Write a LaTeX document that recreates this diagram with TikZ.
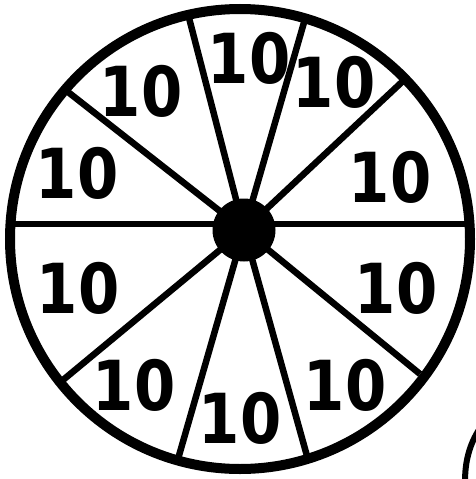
\documentclass[tikz,border=0pt]{standalone}
\usepackage{fontspec}
\newfontfamily\numfont{DejaVu Sans}
\begin{document}
\begin{tikzpicture}[x=1pt,y=-1pt,
  rim/.style={line width=10pt},
  spoke/.style={line width=6.5pt},
  lbl/.style={font=\numfont\bfseries\fontsize{69}{69}\selectfont, inner sep=0pt, xscale=0.86}]
\useasboundingbox (0,0) rectangle (476,479);
\clip (0,0) rectangle (476,479);
% hub
\coordinate (hc) at (244,230);
% rim points
\coordinate (t1) at (188,14);
\coordinate (t2) at (305,19);
\coordinate (ur) at (403,81);
\coordinate (r) at (470,224);
\coordinate (lr) at (420,374);
\coordinate (b2) at (307,456);
\coordinate (b1) at (178,459);
\coordinate (ll) at (63,380);
\coordinate (l) at (10,224);
\coordinate (ul) at (68,92);
\foreach \p in {t1,t2,ur,lr,b2,b1,ll,ul}{\draw[spoke] (hc) -- (\p);}
\draw[spoke] (l) -- (r);
\draw[rim] (240,239) circle[radius=230];
\node[circle, fill=black, minimum size=63pt, inner sep=0pt] (hub) at (hc) {};
% labels
\node[lbl] (n1) at (249,58) {10};
\node[lbl] (n2) at (334,82) {10};
\node[lbl] (n3) at (390,177) {10};
\node[lbl] (n4) at (396,288) {10};
\node[lbl] (n5) at (345,385) {10};
\node[lbl] (n6) at (240,418) {10};
\node[lbl] (n7) at (134,385) {10};
\node[lbl] (n8) at (78,288) {10};
\node[lbl] (n9) at (77,173) {10};
\node[lbl] (n10) at (141,91) {10};
% partial arc bottom right
\draw[line width=6pt] (480,428) .. controls (469,445) and (465,462) .. (465,482);
\end{tikzpicture}
\end{document}
